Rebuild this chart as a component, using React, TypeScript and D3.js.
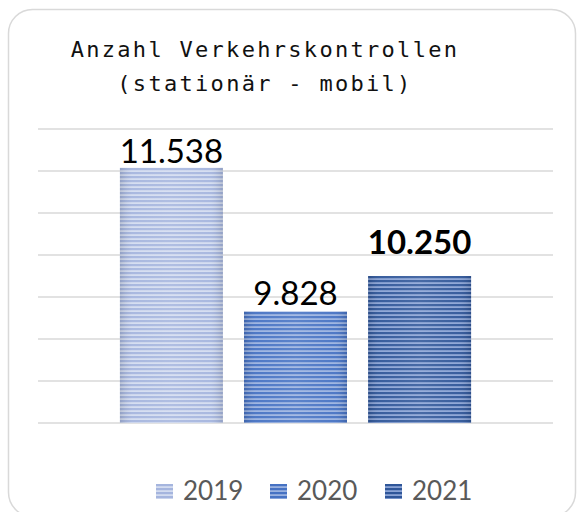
import React from "react";
import * as d3 from "d3";

const titleLines = ["Anzahl Verkehrskontrollen", "(stationär - mobil)"];
const series = ["2019", "2020", "2021"];
const values = [11538, 9828, 10250];
const labels = ["11.538", "9.828", "10.250"];
const boldLabel = [false, false, true];
const yDomain = [8500, 12000];
const yStep = 500;

const W = 579;
const H = 512;
const plot = { left: 38, right: 553, top: 129, bottom: 423 };
const stripeDark = ["#a5b5de", "#4672c3", "#2f5699"];
const stripeLight = ["#d3dcf0", "#9ab2e0", "#8aa3d5"];
const labelGap = [5, 6, 22];

export default function App() {
  const y = d3.scaleLinear().domain(yDomain).range([plot.bottom, plot.top]);
  const x = d3
    .scaleBand<string>()
    .domain(series)
    .range([plot.left, plot.right])
    .paddingInner(0.17)
    .paddingOuter(0.66);
  const ticks = d3.range(yDomain[0], yDomain[1] + 1, yStep);

  const legendX = [156, 270, 385];

  return (
    <svg
      width={W}
      height={H}
      style={{ position: "absolute", left: 0, top: 0, background: "#fff" }}
    >
      <defs>
        {series.map((s, i) => (
          <pattern
            key={s}
            id={`stripe${i}`}
            patternUnits="userSpaceOnUse"
            width={8}
            height={4}
          >
            <rect width={8} height={4} fill={stripeLight[i]} />
            <rect y={0} width={8} height={2.2} fill={stripeDark[i]} />
          </pattern>
        ))}
        <linearGradient id="edge" x1="0" x2="1" y1="0" y2="0">
          <stop offset="0" stopColor="#000" stopOpacity={0.12} />
          <stop offset="0.12" stopColor="#fff" stopOpacity={0.05} />
          <stop offset="0.5" stopColor="#fff" stopOpacity={0.12} />
          <stop offset="0.88" stopColor="#fff" stopOpacity={0.05} />
          <stop offset="1" stopColor="#000" stopOpacity={0.12} />
        </linearGradient>
      </defs>
      <rect
        x={8.5}
        y={9.5}
        width={567}
        height={507}
        rx={24}
        fill="#fff"
        stroke="#d9d9d9"
        strokeWidth={1.5}
      />
      {titleLines.map((t, i) => (
        <text
          key={t}
          x={265}
          y={57 + i * 34}
          textAnchor="middle"
          fontFamily="'DejaVu Sans Mono', monospace"
          fontSize={22}
          letterSpacing={2.3}
          fill="#111"
        >
          {t}
        </text>
      ))}
      {ticks.map((t) => (
        <line
          key={t}
          x1={plot.left}
          x2={plot.right}
          y1={y(t)}
          y2={y(t)}
          stroke="#d9d9d9"
          strokeWidth={1.5}
        />
      ))}
      {series.map((s, i) => {
        const bx = x(s)!;
        const by = y(values[i]);
        const bh = plot.bottom - by;
        return (
          <g key={s}>
            <rect x={bx} y={by} width={x.bandwidth()} height={bh} fill={`url(#stripe${i})`} />
            <rect x={bx} y={by} width={x.bandwidth()} height={bh} fill="url(#edge)" />
            <text
              x={bx + x.bandwidth() / 2}
              y={by - labelGap[i]}
              textAnchor="middle"
              fontFamily="Lato, 'Open Sans', sans-serif"
              fontSize={33}
              fontWeight={boldLabel[i] ? 700 : 400}
              fill="#000"
            >
              {labels[i]}
            </text>
          </g>
        );
      })}
      {series.map((s, i) => (
        <g key={`lg${s}`}>
          <rect x={legendX[i]} y={484} width={17} height={15} fill={`url(#stripe${i})`} />
          <text
            x={legendX[i] + 27}
            y={500}
            fontFamily="Lato, 'Open Sans', sans-serif"
            fontSize={26}
            fill="#595959"
          >
            {s}
          </text>
        </g>
      ))}
    </svg>
  );
}
